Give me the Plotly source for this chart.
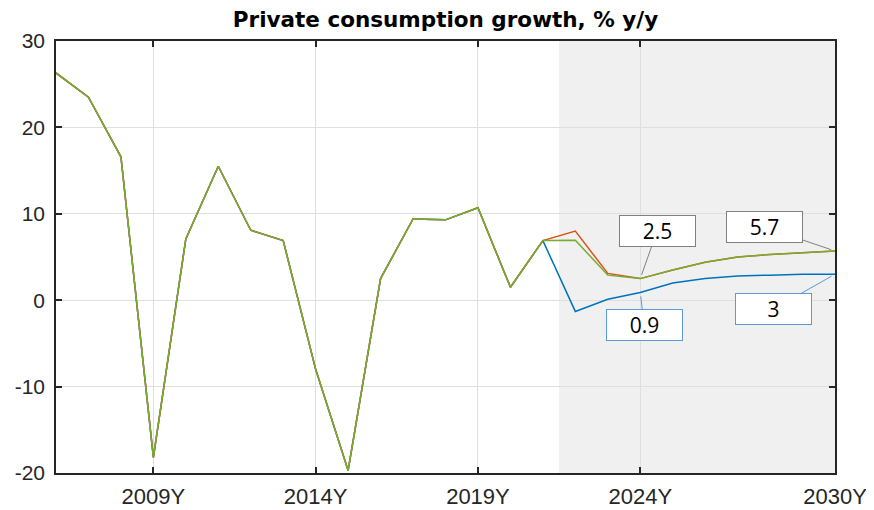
import plotly.graph_objects as go

hist_years = list(range(2006, 2022))
hist_vals = [26.3, 23.5, 16.6, -18.2, 7.1, 15.5, 8.1, 6.9, -8.0, -19.7, 2.5, 9.4, 9.3, 10.7, 1.5, 6.9]

fc_years = list(range(2022, 2031))
blue_fc = [-1.3, 0.1, 0.9, 2.0, 2.5, 2.8, 2.9, 3.0, 3.0]
orange_fc = [8.0, 3.1, 2.5, 3.5, 4.4, 5.0, 5.3, 5.5, 5.7]
green_fc = [6.95, 2.9, 2.5, 3.5, 4.4, 5.0, 5.3, 5.5, 5.7]

tick_years = [2009, 2014, 2019, 2024, 2030]
tick_labels = ["2009Y", "2014Y", "2019Y", "2024Y", "2030Y"]
y_ticks = [-20, -10, 0, 10, 20, 30]
y_labels = ["-20", "-10", "0", "10", "20", "30"]

forecast_start = 2021.5
forecast_end = 2030

years = hist_years + fc_years
series = [
    ("blue", hist_vals + blue_fc, "#0072BD"),
    ("orange", hist_vals + orange_fc, "#D95319"),
    ("green", hist_vals + green_fc, "#77AC30"),
]

fig = go.Figure()
for name, vals, col in series:
    fig.add_trace(go.Scatter(x=years, y=vals, mode="lines", name=name,
                             line=dict(color=col, width=1.5), showlegend=False))

fig.add_vrect(x0=forecast_start, x1=forecast_end, fillcolor="#F0F0F0",
              line_width=0, layer="below")

font_lbl = "Liberation Sans, Arial, sans-serif"
ann_font = dict(family="Open Sans, Liberation Sans, sans-serif", size=21, color="black")

def lbl(x, y, text, ax, ay, col):
    fig.add_annotation(x=x, y=y, text=text, showarrow=True, arrowhead=0,
                       arrowcolor=col, arrowwidth=1, ax=ax, ay=ay,
                       bgcolor="white", bordercolor=col, borderwidth=1,
                       width=73, height=28, font=ann_font, standoff=4)

lbl(2024, green_fc[2], "2.5", 17, -48, "#808080")
lbl(2030, green_fc[-1], "5.7", -71, -24, "#808080")
lbl(2024, blue_fc[2], "0.9", 4, 33, "#5B9BD5")
lbl(2030, blue_fc[-1], "3", -62, 35, "#5B9BD5")

fig.update_layout(
    width=866, height=502,
    margin=dict(l=48, r=39, t=33, b=37, autoexpand=False),
    paper_bgcolor="white", plot_bgcolor="white",
    title=dict(text="<b>Private consumption growth, % y/y</b>", x=0.5, xref="paper",
               xanchor="center", y=0.993, yref="container", yanchor="top",
               font=dict(family="DejaVu Sans, Liberation Sans, sans-serif", size=21.5, color="black")),
    xaxis=dict(range=[2006, 2030], tickvals=tick_years, ticktext=tick_labels,
               automargin=False,
               showgrid=True, gridcolor="#DFDFDF", gridwidth=1,
               showline=True, linecolor="#262626", linewidth=1.5, mirror="ticks",
               ticks="inside", ticklen=6, tickcolor="#262626", tickwidth=1.5,
               zeroline=False, ticklabelstandoff=3,
               tickfont=dict(family=font_lbl, size=22, color="#262626")),
    yaxis=dict(range=[-20, 30], tickvals=y_ticks, ticktext=y_labels,
               automargin=False,
               showgrid=True, gridcolor="#DFDFDF", gridwidth=1,
               showline=True, linecolor="#262626", linewidth=1.5, mirror="ticks",
               ticks="inside", ticklen=6, tickcolor="#262626", tickwidth=1.5,
               zeroline=False, ticklabelstandoff=5,
               tickfont=dict(family=font_lbl, size=21, color="#262626")),
)

fig.write_html("out.html")
